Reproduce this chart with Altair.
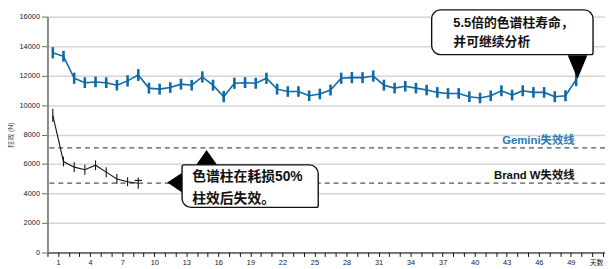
import altair as alt
import pandas as pd

# ---------------- data ----------------
gemini_days = [0.5, 1.5, 2.5, 3.5, 4.5, 5.5, 6.5, 7.5, 8.5, 9.5,
               10.5, 11.5, 12.5, 13.5, 14.5, 15.5, 16.5, 17.5, 18.5, 19.5,
               20.5, 21.5, 22.5, 23.5, 24.5, 25.5, 26.5, 27.5, 28.5, 29.5,
               30.5, 31.5, 32.5, 33.5, 34.5, 35.5, 36.5, 37.5, 38.5, 39.5,
               40.5, 41.5, 42.5, 43.5, 44.5, 45.5, 46.5, 47.5, 48.5, 49.5]
gemini_mean = [13550, 13310, 11820, 11520, 11570, 11520, 11350, 11640, 12040, 11150,
               11080, 11190, 11420, 11350, 11910, 11350, 10570, 11480, 11520, 11480,
               11820, 11080, 10920, 10920, 10630, 10750, 11020, 11820, 11860, 11860,
               11970, 11350, 11150, 11280, 11150, 11020, 10860, 10790, 10790, 10570,
               10480, 10630, 10970, 10680, 10970, 10860, 10860, 10570, 10630, 11730]
gemini_err = [380, 370, 380, 360, 360, 360, 360, 380, 400, 370,
              370, 360, 370, 360, 380, 370, 380, 380, 370, 370,
              380, 370, 360, 360, 360, 360, 370, 380, 380, 370,
              380, 370, 360, 360, 360, 360, 360, 360, 360, 360,
              360, 360, 370, 360, 370, 360, 360, 370, 370, 450]

brand_days = [0.5, 1.5, 2.5, 3.5, 4.5, 5.5, 6.5, 7.5, 8.5]
brand_mean = [9300, 6170, 5790, 5610, 5920, 5450, 4990, 4800, 4700]
brand_err = [450, 330, 330, 340, 330, 340, 330, 300, 380]
brand_cap_day = [8.15]
brand_cap_day2 = [8.85]
brand_cap_val = [4890]

gemini_fail = [7100]
brand_fail = [4700]
fail_label_text = ["Gemini失效线", "Brand W失效线"]
fail_label_day = [49.35, 49.35]
fail_label_val = [7560, 5210]
fail_label_color = ["#2a7ab8", "#111111"]

x_ticks = list(range(0, 53))
y_ticks = [0, 2000, 4000, 6000, 8000, 10000, 12000, 14000, 16000]

# callouts (data units)
box_x = [35.97, 12.6]
box_x2 = [51.08, 25.35]
box_y = [16460, 5940]
box_y2 = [13420, 3060]

call_text = ["5.5倍的色谱柱寿命，", "并可继续分析", "色谱柱在耗损50%", "柱效后失效。"]
call_day = [38.0, 38.0, 13.55, 13.55]
call_val = [15540, 14270, 5090, 3600]
call_size = [13, 13, 14, 14]

tri_day = [49.63, 11.91, 14.9]
tri_val = [12580, 4740, 6450]
tri_shape = ["M-0.83,-1L0.83,-1L0,1Z", "M0.75,-1L0.75,1L-0.75,0Z", "M-1,0.72L1,0.72L0,-0.72Z"]
tri_size = [576, 400, 441]

# ---------------- tables ----------------
g = pd.DataFrame({"day": gemini_days, "mean": gemini_mean, "err": gemini_err})
g["lo"] = g["mean"] - g["err"]
g["hi"] = g["mean"] + g["err"]
b = pd.DataFrame({"day": brand_days, "mean": brand_mean, "err": brand_err})
b["lo"] = b["mean"] - b["err"]
b["hi"] = b["mean"] + b["err"]
cap = pd.DataFrame({"day": brand_cap_day, "d2": brand_cap_day2, "mean": brand_cap_val})
fl = pd.DataFrame({"t": fail_label_text, "day": fail_label_day, "mean": fail_label_val, "c": fail_label_color})
boxes = pd.DataFrame({"day": box_x, "x2": box_x2, "mean": box_y, "y2": box_y2})
ct = pd.DataFrame({"t": call_text, "day": call_day, "mean": call_val, "s": call_size})

FONT = "Liberation Sans, Noto Sans CJK SC, sans-serif"
BLUE = "#0f69a6"

xs = alt.Scale(domain=[0, 52.2], nice=False, zero=False)
ys = alt.Scale(domain=[0, 16000], nice=False)

XAX = alt.Axis(
    values=x_ticks, labelOverlap=False,
    labelExpr="(datum.value % 3 == 1 && datum.value <= 49) ? datum.label : ''",
    grid=False, tickSize=4, tickColor="#111", domainColor="#111", domainWidth=1,
    labelFontSize=7.5, labelColor="#222", labelPadding=2, labelFont=FONT,
    title="天数", titleFontSize=7, titleFontWeight="normal", titleFont=FONT,
    titleColor="#222", titleX=556, titleY=10, titleAlign="center",
    titleBaseline="middle", titleAnchor="start")
YAX = alt.Axis(
    values=y_ticks, labelOverlap=False, format="d", grid=True, gridColor="#d6d6d6",
    gridWidth=1.5, domainColor="#8a8a8a", domainWidth=2, tickColor="#666", tickSize=6,
    labelFontSize=7.5, labelColor="#222", labelPadding=2, labelFont=FONT,
    title="柱效 (N)", titleFontSize=7, titleFontWeight="normal", titleFont=FONT,
    titleColor="#444", titleX=-37, titleY=119.5, titleAngle=-90,
    titleAlign="center", titleBaseline="middle", titleAnchor="start")


def X(field="day"):
    return alt.X(f"{field}:Q", scale=xs, axis=XAX)


def Y(field="mean"):
    return alt.Y(f"{field}:Q", scale=ys, axis=YAX)


g_line = alt.Chart(g).mark_line(strokeWidth=1.6, color=BLUE).encode(x=X(), y=Y())

ref_g = alt.Chart(pd.DataFrame({"mean": gemini_fail})).mark_rule(
    color="#555", strokeDash=[5, 4], strokeWidth=1.2).encode(y=Y())
ref_b = alt.Chart(pd.DataFrame({"mean": brand_fail})).mark_rule(
    color="#555", strokeDash=[5, 4], strokeWidth=1.2).encode(y=Y())

g_bars = alt.Chart(g).mark_rule(color=BLUE, strokeWidth=2.6).encode(
    x=X(), y=Y("lo"), y2="hi:Q")

b_line = alt.Chart(b).mark_line(color="#111", strokeWidth=1.1).encode(x=X(), y=Y())
b_bars = alt.Chart(b).mark_rule(color="#111", strokeWidth=1.1).encode(
    x=X(), y=Y("lo"), y2="hi:Q")
b_cap = alt.Chart(cap).mark_rule(color="#111", strokeWidth=1.1).encode(
    x=X(), x2="d2:Q", y=Y())

labels = alt.Chart(fl).mark_text(align="right", baseline="middle", fontSize=11.5,
                                 fontWeight="bold", font=FONT).encode(
    x=X(), y=Y(), text="t:N", color=alt.Color("c:N", scale=None))

tri_layers = []
for d, v, sh, sz in zip(tri_day, tri_val, tri_shape, tri_size):
    tri_layers.append(
        alt.Chart(pd.DataFrame({"day": [d], "mean": [v]})).mark_point(
            shape=sh, size=sz, filled=True, color="#000", opacity=1, strokeWidth=0).encode(
            x=X(), y=Y()))

box1 = alt.Chart(boxes.iloc[[0]]).mark_rect(
    fill="white", stroke="#111", strokeWidth=1.4,
    cornerRadiusTopLeft=9, cornerRadiusTopRight=9, cornerRadiusBottomLeft=9,
    cornerRadiusBottomRight=2).encode(x=X(), x2="x2:Q", y=Y(), y2="y2:Q")
box2 = alt.Chart(boxes.iloc[[1]]).mark_rect(
    fill="white", stroke="#111", strokeWidth=1.4,
    cornerRadiusTopLeft=2, cornerRadiusTopRight=9, cornerRadiusBottomLeft=9,
    cornerRadiusBottomRight=2).encode(x=X(), x2="x2:Q", y=Y(), y2="y2:Q")

ctext = alt.Chart(ct).mark_text(align="left", baseline="middle", fontWeight="bold",
                                font=FONT, color="#111").encode(
    x=X(), y=Y(), text="t:N",
    size=alt.Size("s:Q", scale=None, legend=None))

chart = alt.layer(
    g_line, ref_g, ref_b, g_bars, b_line, b_bars, b_cap, labels,
    *tri_layers, box1, box2, ctext
).properties(
    width=565, height=239,
    autosize=alt.AutoSizeParams(type="none"),
    padding={"left": 40, "top": 7, "right": 0, "bottom": 15},
).configure_view(stroke=None).configure(background="white")

chart.save("out.html", embed_options={"renderer": "svg", "actions": False})
